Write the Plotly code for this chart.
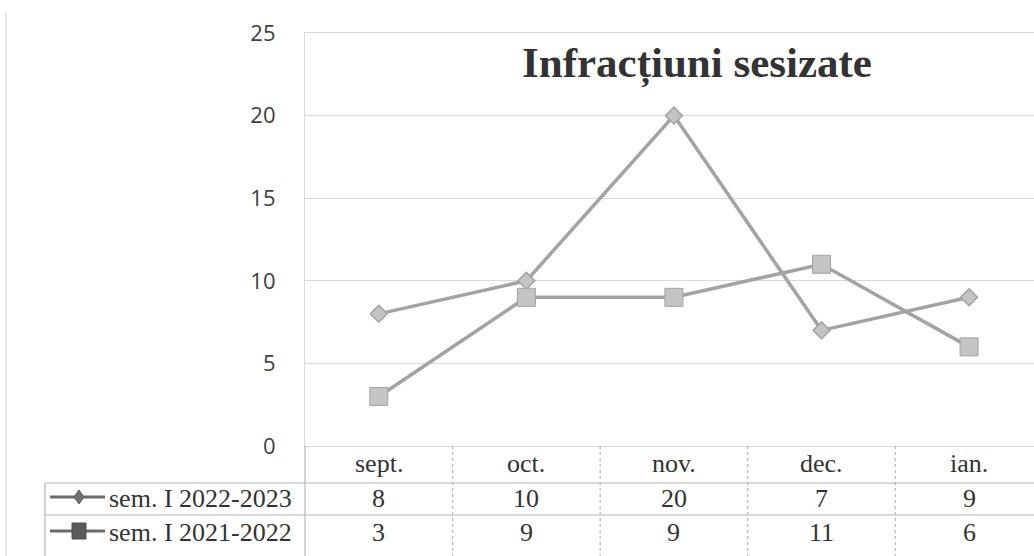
import plotly.graph_objects as go

categories = ["sept.", "oct.", "nov.", "dec.", "ian."]
series_names = ["sem. I 2022-2023", "sem. I 2021-2022"]
values_2022_2023 = [8, 10, 20, 7, 9]
values_2021_2022 = [3, 9, 9, 11, 6]
y_ticks = [0, 5, 10, 15, 20, 25]

W, H = 1034, 556
def py(pix):
    return 1 - pix / H
def px(pix):
    return pix / W

line_col = "#a3a3a3"
marker_col = "#c4c4c4"
text_col = "#333333"
grid_col = "#d9d9d9"
table_col = "#b5b5b5"

fig = go.Figure()
fig.add_trace(go.Scatter(
    x=list(range(len(categories))), y=values_2022_2023, mode="lines+markers",
    name=series_names[0],
    line=dict(color=line_col, width=3.5),
    marker=dict(symbol="diamond", size=13, color=marker_col, line=dict(color=line_col, width=1.5)),
))
fig.add_trace(go.Scatter(
    x=list(range(len(categories))), y=values_2021_2022, mode="lines+markers",
    name=series_names[1],
    line=dict(color=line_col, width=3.5),
    marker=dict(symbol="square", size=18, color=marker_col, line=dict(color=line_col, width=1)),
))

shapes = []
annotations = []

shapes.append(dict(type="line", xref="paper", yref="paper", x0=px(6), x1=px(6), y0=0, y1=py(12),
                   line=dict(color="#d0d0d0", width=1)))

row_top = 446
row1_top = 483
row2_top = 515
row_bot = 556
tbl_left = 45
plot_left = 305

for yy in [row1_top, row2_top]:
    shapes.append(dict(type="line", xref="paper", yref="paper", x0=px(tbl_left), x1=1,
                       y0=py(yy), y1=py(yy), line=dict(color=table_col, width=1.2)))
shapes.append(dict(type="line", xref="paper", yref="paper", x0=px(tbl_left), x1=px(tbl_left),
                   y0=py(row1_top), y1=py(row_bot), line=dict(color=table_col, width=1.2)))
shapes.append(dict(type="line", xref="paper", yref="paper", x0=px(plot_left), x1=px(plot_left),
                   y0=py(row_top), y1=py(row_bot), line=dict(color=table_col, width=1.2)))
for i in range(len(categories) - 1):
    shapes.append(dict(type="line", xref="x", yref="paper", x0=i + 0.5, x1=i + 0.5,
                       y0=py(row_top), y1=py(row_bot), line=dict(color=table_col, width=1.2, dash="dot")))

tfont = dict(family="Liberation Serif", size=26, color=text_col)
for i, c in enumerate(categories):
    annotations.append(dict(x=i, y=py(463), xref="x", yref="paper",
                            text=c, showarrow=False, font=tfont, yanchor="middle"))
    annotations.append(dict(x=i, y=py(498), xref="x", yref="paper",
                            text=str(values_2022_2023[i]), showarrow=False, font=tfont, yanchor="middle"))
    annotations.append(dict(x=i, y=py(532), xref="x", yref="paper",
                            text=str(values_2021_2022[i]), showarrow=False, font=tfont, yanchor="middle"))

for k, (name, sym) in enumerate(zip(series_names, ["diamond", "square"])):
    yc = 497 if k == 0 else 531
    shapes.append(dict(type="line", xref="paper", yref="paper", x0=px(50), x1=px(105),
                       y0=py(yc), y1=py(yc), line=dict(color="#6a6a6a", width=3)))
    cx = 79
    if sym == "diamond":
        path = f"M {px(cx-5)} {py(yc)} L {px(cx)} {py(yc-7)} L {px(cx+5)} {py(yc)} L {px(cx)} {py(yc+7)} Z"
        shapes.append(dict(type="path", xref="paper", yref="paper", path=path,
                           fillcolor="#707070", line=dict(color="#606060", width=1)))
    else:
        shapes.append(dict(type="rect", xref="paper", yref="paper", x0=px(cx-7), x1=px(cx+7),
                           y0=py(yc+8), y1=py(yc-8), fillcolor="#5a5a5a", line=dict(color="#505050", width=1)))
    annotations.append(dict(x=px(107), y=py(yc + 1), xref="paper", yref="paper", text=name,
                            showarrow=False, font=tfont, xanchor="left", yanchor="middle"))

annotations.append(dict(x=px(697), y=py(64), xref="paper", yref="paper", text="<b>Infracțiuni sesizate</b>",
                        showarrow=False, font=dict(family="Liberation Serif", size=43, color="#333333"),
                        xanchor="center", yanchor="middle"))

fig.update_layout(
    width=W, height=H,
    margin=dict(l=0, r=0, t=0, b=0, autoexpand=False),
    paper_bgcolor="white", plot_bgcolor="white",
    showlegend=False,
    shapes=shapes, annotations=annotations,
    xaxis=dict(domain=[px(plot_left), 1], range=[-0.5, 4.44], showticklabels=False,
               showgrid=False, zeroline=False, showline=True, mirror=True,
               linecolor=grid_col, linewidth=1.2, fixedrange=True),
    yaxis=dict(domain=[py(446), py(33)], range=[0, 25], tickvals=y_ticks,
               showgrid=True, gridcolor=grid_col, gridwidth=1.2, zeroline=False,
               showline=True, linecolor=grid_col, linewidth=1.2,
               tickfont=dict(family="Open Sans", size=22, color="#404040"),
               ticklabelstandoff=24, ticks="", fixedrange=True),
)

fig.write_html("out.html", post_script="document.body.style.margin='0px';",
               config={"displayModeBar": False})
